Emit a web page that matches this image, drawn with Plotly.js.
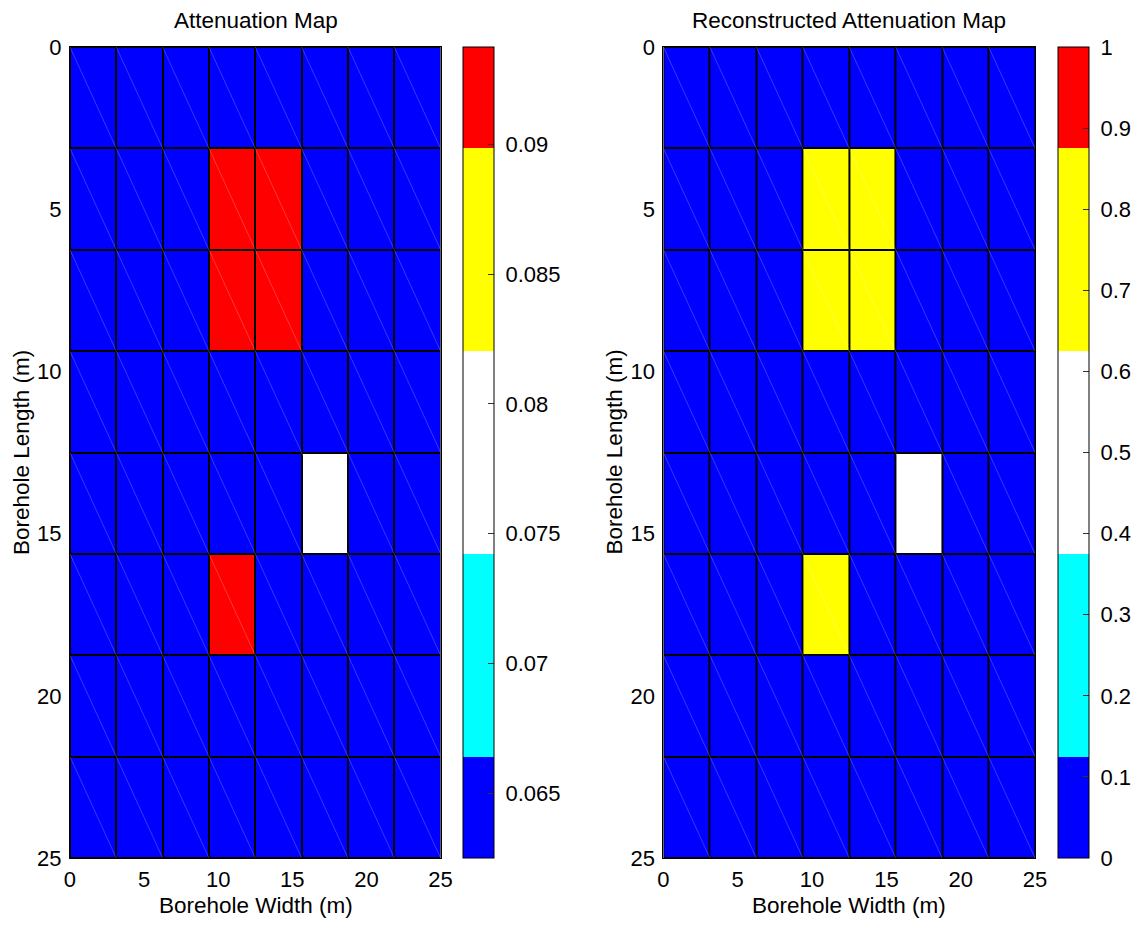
<!DOCTYPE html>
<html>
<head>
<meta charset="utf-8">
<script src="https://cdn.plot.ly/plotly-3.0.1.min.js"></script>
<style>
  html, body { margin: 0; padding: 0; background: #fff; }
  #chart { width: 1137px; height: 925px; }
</style>
</head>
<body>
<div id="chart"></div>
<script>
// Cell edges along both axes (m): 8 x 8 grid over a 25 m x 25 m section
const cellEdges = [0, 3.125, 6.25, 9.375, 12.5, 15.625, 18.75, 21.875, 25];
const axisTicks = [0, 5, 10, 15, 20, 25];

// True attenuation per cell (rows top to bottom)
const attenuation = [
  [0.0625, 0.0625, 0.0625, 0.0625,  0.0625,  0.0625,   0.0625, 0.0625],
  [0.0625, 0.0625, 0.0625, 0.09375, 0.09375, 0.0625,   0.0625, 0.0625],
  [0.0625, 0.0625, 0.0625, 0.09375, 0.09375, 0.0625,   0.0625, 0.0625],
  [0.0625, 0.0625, 0.0625, 0.0625,  0.0625,  0.0625,   0.0625, 0.0625],
  [0.0625, 0.0625, 0.0625, 0.0625,  0.0625,  0.078125, 0.0625, 0.0625],
  [0.0625, 0.0625, 0.0625, 0.09375, 0.0625,  0.0625,   0.0625, 0.0625],
  [0.0625, 0.0625, 0.0625, 0.0625,  0.0625,  0.0625,   0.0625, 0.0625],
  [0.0625, 0.0625, 0.0625, 0.0625,  0.0625,  0.0625,   0.0625, 0.0625]
];

// Reconstructed attenuation per cell (rows top to bottom)
const reconstructed = [
  [0, 0, 0, 0,    0,    0,   0, 0],
  [0, 0, 0, 0.75, 0.75, 0,   0, 0],
  [0, 0, 0, 0.75, 0.75, 0,   0, 0],
  [0, 0, 0, 0,    0,    0,   0, 0],
  [0, 0, 0, 0,    0,    0.5, 0, 0],
  [0, 0, 0, 0.75, 0,    0,   0, 0],
  [0, 0, 0, 0,    0,    0,   0, 0],
  [0, 0, 0, 0,    0,    0,   0, 0]
];

const leftRange = [0.0625, 0.09375];
const leftTicks = [0.065, 0.07, 0.075, 0.08, 0.085, 0.09];
const leftTickText = ['0.065', '0.07', '0.075', '0.08', '0.085', '0.09'];
const rightRange = [0, 1];
const rightTicks = [0, 0.1, 0.2, 0.3, 0.4, 0.5, 0.6, 0.7, 0.8, 0.9, 1];
const rightTickText = ['0', '0.1', '0.2', '0.3', '0.4', '0.5', '0.6', '0.7', '0.8', '0.9', '1'];

const titles = ['Attenuation Map', 'Reconstructed Attenuation Map'];
const xTitle = 'Borehole Width (m)';
const yTitle = 'Borehole Length (m)';

// Five-band colour map
const bands = [
  [0, 'rgb(0,0,255)'], [0.125, 'rgb(0,0,255)'],
  [0.125, 'rgb(0,255,255)'], [0.375, 'rgb(0,255,255)'],
  [0.375, 'rgb(255,255,255)'], [0.625, 'rgb(255,255,255)'],
  [0.625, 'rgb(255,255,0)'], [0.875, 'rgb(255,255,0)'],
  [0.875, 'rgb(255,0,0)'], [1, 'rgb(255,0,0)']
];

const W = 1137, H = 925;
const px = v => v / W;
const py = v => 1 - v / H;

const centers = cellEdges.slice(0, -1).map((e, i) => (e + cellEdges[i + 1]) / 2);

// Faint diagonal edge in every cell (top-left to bottom-right)
function diagonals() {
  const xs = [], ys = [];
  for (let r = 0; r < centers.length; r++) {
    for (let c = 0; c < centers.length; c++) {
      xs.push(cellEdges[c], cellEdges[c + 1], null);
      ys.push(cellEdges[r], cellEdges[r + 1], null);
    }
  }
  return { xs, ys };
}
const diag = diagonals();

const font = 'Liberation Sans, Arial, sans-serif';
const pad = s => '\u00a0' + s;

function heat(z, range, ticks, text, xa, ya, cbx) {
  return {
    type: 'heatmap', z: z, x: centers, y: centers,
    xaxis: xa, yaxis: ya,
    zmin: range[0], zmax: range[1],
    colorscale: bands, xgap: 2, ygap: 2,
    hoverinfo: 'skip',
    colorbar: {
      x: cbx, xanchor: 'left', xref: 'paper',
      y: py(858), yanchor: 'bottom', len: 811 / H, lenmode: 'fraction',
      thickness: 31, thicknessmode: 'pixels',
      xpad: 0, ypad: 0,
      outlinecolor: '#000', outlinewidth: 1,
      tickvals: ticks, ticktext: text.map(pad),
      ticks: 'inside', ticklen: 6, tickcolor: '#333', tickwidth: 1,
      tickfont: { family: font, size: 22, color: '#000' }
    }
  };
}

function diagTrace(xa, ya) {
  return {
    type: 'scatter', mode: 'lines', x: diag.xs, y: diag.ys,
    xaxis: xa, yaxis: ya, hoverinfo: 'skip', showlegend: false,
    line: { color: 'rgba(255,255,255,0.22)', width: 1 }
  };
}

const data = [
  heat(attenuation, leftRange, leftTicks, leftTickText, 'x', 'y', px(463)),
  diagTrace('x', 'y'),
  heat(reconstructed, rightRange, rightTicks, rightTickText, 'x2', 'y2', px(1058)),
  diagTrace('x2', 'y2')
];

function xAxis(domain, anchor) {
  return {
    domain: domain, anchor: anchor, range: [0, 25],
    tickvals: axisTicks, ticks: 'outside', ticklen: 2, tickcolor: 'rgba(0,0,0,0)',
    showgrid: false, zeroline: false,
    showline: true, mirror: true, linecolor: '#000', linewidth: 1,
    tickfont: { family: font, size: 22, color: '#000' }, automargin: false
  };
}
function yAxis(anchor) {
  return {
    domain: [py(858), py(47)], anchor: anchor, range: [25, 0],
    tickvals: axisTicks, ticks: 'outside', ticklen: 3, tickcolor: 'rgba(0,0,0,0)',
    showgrid: false, zeroline: false,
    showline: true, mirror: true, linecolor: '#000', linewidth: 1,
    tickfont: { family: font, size: 22, color: '#000' }, automargin: false
  };
}

const leftDom = [px(70), px(441)];
const rightDom = [px(664), px(1036)];

function ann(text, x, y, size, angle) {
  return {
    text: text, x: x, y: y, xref: 'paper', yref: 'paper',
    xanchor: 'center', yanchor: 'middle', showarrow: false,
    textangle: angle || 0,
    font: { family: font, size: size, color: '#000' }
  };
}

const layout = {
  width: W, height: H,
  margin: { l: 0, r: 0, t: 0, b: 0 },
  paper_bgcolor: '#fff', plot_bgcolor: '#000',
  showlegend: false,
  xaxis: xAxis(leftDom, 'y'),
  yaxis: yAxis('x'),
  xaxis2: xAxis(rightDom, 'y2'),
  yaxis2: yAxis('x2'),
  annotations: [
    ann(titles[0], px(256), py(20), 22.5),
    ann(titles[1], px(850), py(20), 22.5),
    ann(xTitle, px(256), py(905), 22.5),
    ann(xTitle, px(850), py(905), 22.5),
    ann(yTitle, px(21), py(452), 22.5, -90),
    ann(yTitle, px(615), py(452), 22.5, -90)
  ]
};

Plotly.newPlot('chart', data, layout, { displayModeBar: false, staticPlot: true });
</script>
</body>
</html>
